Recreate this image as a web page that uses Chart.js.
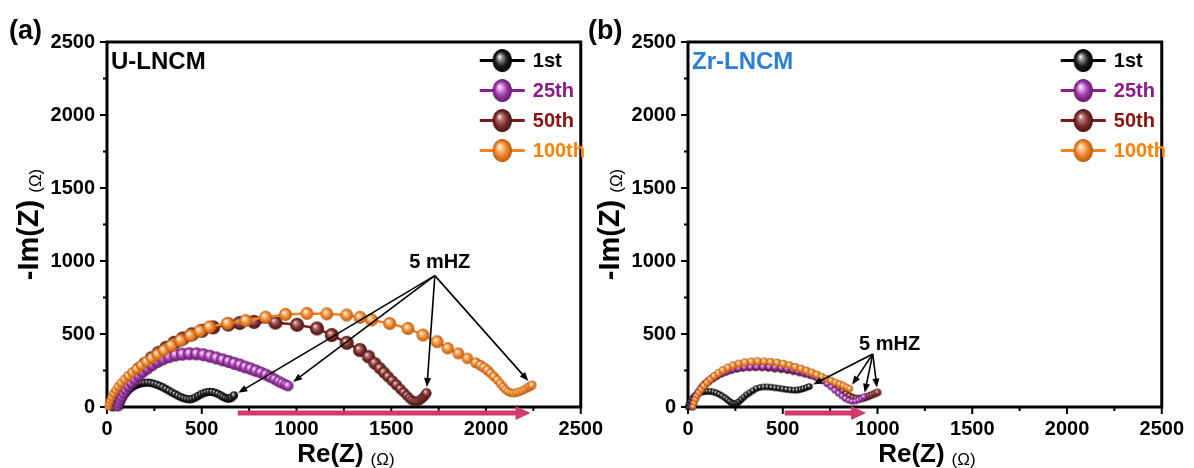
<!DOCTYPE html>
<html>
<head>
<meta charset="utf-8">
<title>EIS U-LNCM / Zr-LNCM</title>
<script src="https://cdn.jsdelivr.net/npm/chart.js@4"></script>
<style>
  body { margin: 0; background: #fff; width: 1194px; height: 468px; overflow: hidden; position: relative; }
  canvas { position: absolute; top: 0; }
  #chartU { left: 0; }
  #chartZr { left: 581px; }
</style>
</head>
<body>
<canvas id="chartU" width="613" height="468"></canvas>
<canvas id="chartZr" width="613" height="468"></canvas>
<script>
const FONT = '"Liberation Sans", Arial, sans-serif';

const cycleLabels = ['1st', '25th', '50th', '100th'];
const axisMax = 2500;
const majorStep = 500;
const minorStep = 250;
const noteText = '5 mHZ';

// U-LNCM, [Re(Z), -Im(Z)] in ohm
const u1st = [[65,5],[70,25],[77,45],[85,65],[94,85],[104,102],[115,118],[127,131],[140,142],[154,151],
  [168,158],[183,163],[198,166],[214,167],[230,165],[246,160],[262,153],[278,145],[294,135],[310,124],
  [326,112],[342,100],[358,89],[374,78],[390,68],[405,60],[420,55],[435,52],[450,56],[465,64],
  [480,75],[495,86],[510,95],[525,101],[540,104],[555,103],[570,98],[585,90],[600,80],[613,70],
  [625,62],[637,57],[648,58],[658,65],[670,80]];
const u25th = [[58,0],[62,22],[68,45],[76,68],[86,92],[98,116],[112,140],[128,165],[146,190],[166,215],
  [188,240],[212,265],[238,290],[266,312],[296,330],[328,345],[362,356],[398,362],[435,365],[472,364],
  [508,358],[543,348],[577,336],[610,323],[642,311],[672,299],[702,287],[730,274],[758,262],[785,249],
  [812,236],[838,222],[862,207],[885,190],[906,175],[925,163],[942,152],[955,145]];
const u50th = [[30,0],[36,30],[45,60],[57,92],[72,125],[90,158],[112,192],[138,228],[168,265],[200,300],
  [235,338],[272,372],[312,405],[355,440],[400,470],[448,498],[500,522],[560,545],[640,565],[700,575],
  [776,583],[889,578],[1003,563],[1108,538],[1186,493],[1265,440],[1335,390],[1380,345],[1413,300],[1440,265],
  [1462,236],[1483,208],[1505,180],[1527,152],[1548,124],[1566,100],[1582,78],[1596,60],[1608,46],[1620,38],
  [1632,37],[1644,42],[1656,52],[1667,64],[1677,78],[1686,95]];
const u100th = [[5,0],[9,22],[15,45],[23,68],[33,92],[45,116],[59,140],[75,164],[93,188],[112,212],
  [133,236],[156,260],[181,285],[208,310],[236,335],[266,360],[300,388],[339,420],[388,456],[440,490],
  [490,520],[540,548],[636,573],[732,592],[837,615],[942,634],[1055,641],[1160,638],[1265,630],[1335,614],
  [1396,596],[1492,572],[1588,538],[1667,493],[1742,447],[1798,402],[1854,367],[1902,333],[1946,303],[1972,285],
  [1990,270],[2008,252],[2025,230],[2042,208],[2060,185],[2076,160],[2090,138],[2102,120],[2115,106],[2130,98],
  [2145,95],[2160,98],[2175,104],[2190,112],[2205,121],[2220,132],[2232,140],[2243,150]];

// Zr-LNCM, [Re(Z), -Im(Z)] in ohm
const zr1st = [[2,0],[6,20],[13,40],[22,58],[33,74],[46,87],[60,97],[75,103],[90,106],[105,107],
  [120,106],[135,102],[150,96],[165,87],[180,76],[195,63],[208,50],[220,38],[230,28],[240,22],
  [250,22],[260,28],[270,38],[282,52],[295,68],[310,84],[326,98],[343,112],[361,126],[380,134],
  [400,137],[420,137],[440,135],[460,131],[480,128],[500,124],[520,120],[540,117],[560,115],[578,116],
  [595,120],[610,126],[625,133],[640,140]];
const zr25th = [[19,0],[24,25],[31,50],[40,75],[51,100],[64,124],[79,146],[96,166],[115,185],[136,203],
  [158,219],[182,233],[208,246],[236,257],[266,266],[298,272],[330,275],[362,276],[395,276],[428,275],
  [460,273],[492,269],[522,263],[552,256],[580,246],[608,236],[635,225],[662,212],[688,198],[712,180],
  [734,160],[755,138],[775,115],[794,94],[812,75],[830,58],[848,45],[866,38],[884,40],[900,48],
  [915,58],[928,70]];
const zr50th = [[24,0],[30,28],[38,55],[48,82],[60,108],[74,132],[90,155],[108,176],[128,196],[150,214],
  [174,230],[200,244],[228,256],[258,265],[290,271],[323,274],[356,275],[390,274],[424,271],[458,266],
  [492,262],[525,256],[557,248],[588,240],[618,231],[647,221],[675,210],[702,197],[727,182],[751,164],
  [774,145],[795,125],[815,106],[834,89],[852,75],[870,64],[888,58],[906,57],[923,60],[940,67],
  [956,75],[971,84],[986,92],[1000,100]];
const zr100th = [[28,5],[33,30],[40,55],[48,78],[58,100],[70,122],[84,145],[100,168],[118,190],[138,212],
  [160,232],[184,252],[210,270],[238,285],[268,297],[300,306],[334,311],[368,313],[402,312],[436,309],
  [470,304],[503,296],[535,286],[566,274],[596,262],[625,249],[653,236],[680,222],[706,208],[731,194],
  [755,181],[778,168],[800,157],[820,146],[838,135],[853,126]];

// annotation anchors, in axis units
const uNoteAt = [1756, 993];
const uArrowFrom = [1730, 900];
const uShift = [690, 2235];
const zrNoteAt = [1064, 425];
const zrArrowFrom = [975, 363];
const zrShift = [510, 940];

const palette = [
  { line: '#000000', label: '#000000', light: '#a0a0a0', base: '#1c1c1c', dark: '#000000' },
  { line: '#8e1f96', label: '#8b1a8b', light: '#eaa6f0', base: '#9c3aa6', dark: '#621868' },
  { line: '#7a1a1a', label: '#8b1010', light: '#c48585', base: '#7e2f2f', dark: '#461212' },
  { line: '#f58220', label: '#ff8000', light: '#ffd098', base: '#ee8430', dark: '#b85a0e' }
];

const sphereCache = {};
function sphere(col, r) {
  const key = col.base + ':' + r.toFixed(1);
  if (sphereCache[key]) return sphereCache[key];
  const d = Math.ceil(r * 2) + 2;
  const c = document.createElement('canvas');
  c.width = c.height = d;
  const g = c.getContext('2d');
  const cx = d / 2, cy = d / 2;
  const grad = g.createRadialGradient(cx - r * 0.3, cy - r * 0.35, r * 0.04, cx, cy, r);
  grad.addColorStop(0, '#ffffff');
  grad.addColorStop(0.18, col.light);
  grad.addColorStop(0.6, col.base);
  grad.addColorStop(1, col.dark);
  g.fillStyle = grad;
  g.beginPath();
  g.arc(cx, cy, r, 0, Math.PI * 2);
  g.fill();
  sphereCache[key] = c;
  return c;
}

// marker size grows with -Im(Z) up to a cap
function sizeFor(rule, im) {
  return rule.min + (rule.max - rule.min) * Math.min(1, im / rule.ref);
}

function arrow(ctx, x0, y0, x1, y1, width, head, headW, color) {
  const a = Math.atan2(y1 - y0, x1 - x0);
  ctx.save();
  ctx.strokeStyle = color;
  ctx.fillStyle = color;
  ctx.lineWidth = width;
  ctx.beginPath();
  ctx.moveTo(x0, y0);
  ctx.lineTo(x1 - Math.cos(a) * head * 0.8, y1 - Math.sin(a) * head * 0.8);
  ctx.stroke();
  ctx.translate(x1, y1);
  ctx.rotate(a);
  ctx.beginPath();
  ctx.moveTo(0, 0);
  ctx.lineTo(-head, -headW);
  ctx.lineTo(-head, headW);
  ctx.closePath();
  ctx.fill();
  ctx.restore();
}

function drawPair(ctx, big, small, x, y, size) {
  ctx.font = 'bold ' + size + 'px ' + FONT;
  const w1 = ctx.measureText(big).width;
  ctx.font = '17px ' + FONT;
  const w2 = ctx.measureText(small).width;
  const gap = 7;
  const start = x - (w1 + gap + w2) / 2;
  ctx.textAlign = 'left';
  ctx.textBaseline = 'alphabetic';
  ctx.font = 'bold ' + size + 'px ' + FONT;
  ctx.fillText(big, start, y);
  ctx.font = '17px ' + FONT;
  ctx.fillText(small, start + w1 + gap, y + 3);
}

const panelDecor = {
  id: 'panelDecor',
  beforeDatasetsDraw(chart) {
    const { ctx, chartArea: a, scales: { x, y } } = chart;
    ctx.save();
    ctx.strokeStyle = '#000';
    ctx.lineWidth = 3;
    ctx.strokeRect(a.left, a.top, a.right - a.left, a.bottom - a.top);
    ctx.lineWidth = 2;
    for (let v = 0; v <= axisMax; v += minorStep) {
      const len = v % majorStep === 0 ? 7 : 4;
      const px = x.getPixelForValue(v);
      const py = y.getPixelForValue(v);
      ctx.beginPath();
      ctx.moveTo(px, a.bottom);
      ctx.lineTo(px, a.bottom + len);
      ctx.moveTo(a.left - len, py);
      ctx.lineTo(a.left, py);
      ctx.stroke();
    }
    ctx.restore();
  },
  afterDraw(chart, args, o) {
    const { ctx, chartArea: a, scales: { x, y } } = chart;
    ctx.save();

    // shift arrow under the Re(Z) axis
    arrow(ctx, x.getPixelForValue(o.shift[0]), a.bottom + 6, x.getPixelForValue(o.shift[1]), a.bottom + 6,
      5, 15, 7, '#d23a6c');

    // low-frequency end markers
    const ox = x.getPixelForValue(o.arrowFrom[0]);
    const oy = y.getPixelForValue(o.arrowFrom[1]);
    chart.data.datasets.forEach(ds => {
      const last = ds.data[ds.data.length - 1];
      const ex = x.getPixelForValue(last.x);
      const ey = y.getPixelForValue(last.y);
      const r = sizeFor(ds.sizeRule, last.y) + 1;
      const d = Math.hypot(ex - ox, ey - oy);
      arrow(ctx, ox, oy, ex - (ex - ox) / d * r, ey - (ey - oy) / d * r, 1.6, 9, 3.5, '#000');
    });
    ctx.fillStyle = '#000';
    ctx.font = 'bold 20px ' + FONT;
    ctx.textAlign = 'center';
    ctx.textBaseline = 'middle';
    ctx.fillText(noteText, x.getPixelForValue(o.noteAt[0]), y.getPixelForValue(o.noteAt[1]));

    // legend
    chart.data.datasets.forEach((ds, i) => {
      const ly = a.top + 18.5 + i * 30;
      const col = palette[i];
      ctx.strokeStyle = col.line;
      ctx.lineWidth = 3;
      ctx.beginPath();
      ctx.moveTo(a.right - 101, ly);
      ctx.lineTo(a.right - 56, ly);
      ctx.stroke();
      ctx.drawImage(sphere(col, 12), a.right - 89, ly - 12.5, 21, 25);
      ctx.fillStyle = col.label;
      ctx.font = 'bold 20px ' + FONT;
      ctx.textAlign = 'left';
      ctx.textBaseline = 'middle';
      ctx.fillText(ds.label, a.right - 48, ly + 1);
    });

    // panel letter and sample name
    ctx.fillStyle = '#000';
    ctx.font = 'bold 27px ' + FONT;
    ctx.textAlign = 'left';
    ctx.textBaseline = 'alphabetic';
    ctx.fillText(o.letter, o.letterX, 39);
    ctx.fillStyle = o.nameColor;
    ctx.font = 'bold 24px ' + FONT;
    ctx.fillText(o.name, a.left + 4, a.top + 27);

    // axis titles
    ctx.fillStyle = '#000';
    drawPair(ctx, 'Re(Z)', '(\u03a9)', (a.left + a.right) / 2 + 2, 462, 26);
    ctx.save();
    ctx.translate(38, (a.top + a.bottom) / 2);
    ctx.rotate(-Math.PI / 2);
    drawPair(ctx, '-Im(Z)', '(\u03a9)', 0, 0, 29);
    ctx.restore();

    ctx.restore();
  }
};

function makeChart(id, series, sizes, decor) {
  const order = [3, 1, 2, 0];
  const datasets = series.map((pts, i) => {
    const col = palette[i];
    const rule = sizes[i];
    return {
      label: cycleLabels[i],
      data: pts.map(p => ({ x: p[0], y: p[1] })),
      showLine: true,
      borderColor: col.line,
      borderWidth: 2.5,
      tension: 0,
      pointStyle: c => sphere(col, sizeFor(rule, c.raw ? c.raw.y : rule.ref)),
      pointRadius: c => sizeFor(rule, c.raw ? c.raw.y : rule.ref),
      sizeRule: rule,
      order: order[i],
      clip: false
    };
  });
  const tickFont = { family: FONT, size: 20, weight: 'bold' };
  return new Chart(document.getElementById(id), {
    type: 'scatter',
    data: { datasets },
    options: {
      responsive: false,
      animation: false,
      events: [],
      layout: { padding: { top: 42, right: 29, left: 0, bottom: 0 } },
      scales: {
        x: {
          type: 'linear', min: 0, max: axisMax,
          ticks: { stepSize: majorStep, font: tickFont, color: '#000', padding: 10, maxRotation: 0,
            callback: v => String(v) },
          grid: { display: false, drawTicks: false },
          border: { display: false },
          afterFit: s => { s.height = 61; }
        },
        y: {
          type: 'linear', min: 0, max: axisMax,
          ticks: { stepSize: majorStep, font: tickFont, color: '#000', padding: 12,
            callback: v => String(v) },
          grid: { display: false, drawTicks: false },
          border: { display: false },
          afterFit: s => { s.width = 107; }
        }
      },
      plugins: {
        legend: { display: false },
        tooltip: { enabled: false },
        panelDecor: decor
      }
    },
    plugins: [panelDecor]
  });
}

makeChart('chartU', [u1st, u25th, u50th, u100th], [
  { min: 4, max: 4, ref: 1 },
  { min: 4.5, max: 6.5, ref: 300 },
  { min: 4.5, max: 7, ref: 400 },
  { min: 3.5, max: 6.5, ref: 450 }
], {
  letter: '(a)', letterX: 9, name: 'U-LNCM', nameColor: '#000',
  noteAt: uNoteAt, arrowFrom: uArrowFrom, shift: uShift
});

makeChart('chartZr', [zr1st, zr25th, zr50th, zr100th], [
  { min: 3.3, max: 3.3, ref: 1 },
  { min: 3, max: 3.6, ref: 200 },
  { min: 3.5, max: 4.2, ref: 200 },
  { min: 3, max: 4, ref: 250 }
], {
  letter: '(b)', letterX: 7, name: 'Zr-LNCM', nameColor: '#2c7fd8',
  noteAt: zrNoteAt, arrowFrom: zrArrowFrom, shift: zrShift
});
</script>
</body>
</html>
